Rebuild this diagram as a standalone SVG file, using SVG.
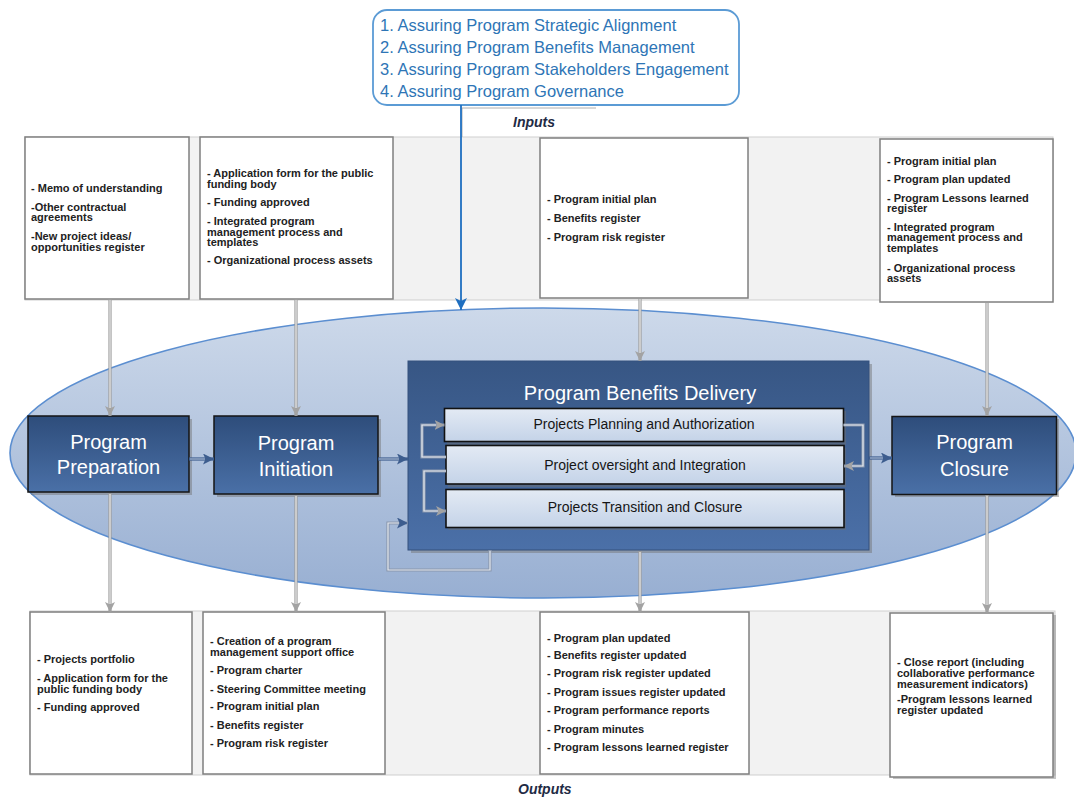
<svg xmlns="http://www.w3.org/2000/svg" width="1074" height="798" viewBox="0 0 1074 798">
<style>
.t{font-family:"Liberation Sans",Arial,sans-serif;}
.it{font-family:"Liberation Sans",Arial,sans-serif;font-size:11px;font-weight:bold;fill:#222;}
.call{font-family:"Liberation Sans",Arial,sans-serif;font-size:16.5px;fill:#2e75b6;}
.nd{font-family:"Liberation Sans",Arial,sans-serif;font-size:20px;fill:#fff;text-anchor:middle;}
.sb{font-family:"Liberation Sans",Arial,sans-serif;font-size:14px;fill:#151515;text-anchor:middle;}
.lab{font-family:"Liberation Sans",Arial,sans-serif;font-size:14px;font-weight:bold;font-style:italic;fill:#1f2b45;}
.box{fill:#fff;stroke:#7f7f7f;stroke-width:1.5;}
.band{fill:#f2f2f2;stroke:#cfcfcf;stroke-width:1;}
.node{fill:url(#gn);stroke:#151515;stroke-width:1.5;}
.shadow{fill:#6f6f6f;opacity:0.45;}
.sub{fill:url(#gs);stroke:#111;stroke-width:1.6;}
.go{fill:none;stroke:#9c9c9c;stroke-width:3.2;}
.gi{fill:none;stroke:#ececec;stroke-width:1.2;}
.co{fill:none;stroke:#8a97ad;stroke-width:3.2;}
.ci{fill:none;stroke:#e4e9f1;stroke-width:1.2;}
.bo{fill:none;stroke:#3d5d8e;stroke-width:3.2;}
.bi{fill:none;stroke:#a9b9d2;stroke-width:1.2;}
</style>
<defs>
<linearGradient id="ge" x1="0" y1="0" x2="0" y2="1">
<stop offset="0" stop-color="#cdd9ea"/>
<stop offset="1" stop-color="#98afd2"/>
</linearGradient>
<linearGradient id="gn" x1="0" y1="0" x2="0" y2="1">
<stop offset="0" stop-color="#2e4d7b"/>
<stop offset="1" stop-color="#4a70a7"/>
</linearGradient>
<linearGradient id="gp" x1="0" y1="0" x2="0" y2="1">
<stop offset="0" stop-color="#375684"/>
<stop offset="1" stop-color="#4b70a8"/>
</linearGradient>
<linearGradient id="gs" x1="0" y1="0" x2="0" y2="1">
<stop offset="0" stop-color="#e3eaf4"/>
<stop offset="1" stop-color="#c4d3e8"/>
</linearGradient>
<marker id="ag" markerUnits="userSpaceOnUse" markerWidth="10" markerHeight="10" refX="10" refY="5" orient="auto">
<path d="M0,0 L10,5 L0,10 L2.5,5 z" fill="#a3a3a3"/>
</marker>
<marker id="ab" markerUnits="userSpaceOnUse" markerWidth="11" markerHeight="11" refX="11" refY="5.5" orient="auto">
<path d="M0,0 L11,5.5 L0,11 L2.5,5.5 z" fill="#3d5d8e"/>
</marker>
<marker id="ac" markerUnits="userSpaceOnUse" markerWidth="12" markerHeight="12" refX="12" refY="6" orient="auto">
<path d="M0,0 L12,6 L0,12 L3,6 z" fill="#1f6fc0"/>
</marker>
</defs>

<rect width="1074" height="798" fill="#fff"/>

<!-- process ellipse -->
<ellipse id="process-ellipse" cx="543" cy="453" rx="533" ry="145" fill="url(#ge)" stroke="#5b8ed0" stroke-width="1.6"/>

<!-- bands -->
<rect class="band" x="25" y="137" width="1028" height="163"/>
<rect class="band" x="30" y="611" width="1025" height="164"/>

<!-- callout -->
<g id="assurance-callout">
<rect x="373" y="10" width="366" height="95" rx="14" fill="#fff" stroke="#5b9bd5" stroke-width="1.8"/>
<text class="call" x="380" y="31">1. Assuring Program Strategic Alignment</text>
<text class="call" x="380" y="53">2. Assuring Program Benefits Management</text>
<text class="call" x="380" y="75">3. Assuring Program Stakeholders Engagement</text>
<text class="call" x="380" y="96.5">4. Assuring Program Governance</text>
</g>

<g id="inputs-label">
<path d="M462,137 V108 H596" fill="none" stroke="#b0b0b0" stroke-width="1"/>
<text class="lab" x="513" y="127">Inputs</text>
</g>
<g id="outputs-label">
<text class="lab" x="518" y="794">Outputs</text>
</g>

<!-- input boxes -->
<g id="input-preparation">
<rect class="box" x="25" y="137" width="164" height="162"/>
<text class="it" x="31" y="192">- Memo of understanding</text>
<text class="it" x="31" y="210.5">-Other contractual</text>
<text class="it" x="31" y="220.7">agreements</text>
<text class="it" x="31" y="239.7">-New project ideas/</text>
<text class="it" x="31" y="250.7">opportunities register</text>
</g>
<g id="input-initiation">
<rect class="box" x="200" y="137" width="193" height="162"/>
<text class="it" x="207" y="176.7">- Application form for the public</text>
<text class="it" x="207" y="188">funding body</text>
<text class="it" x="207" y="205.7">- Funding approved</text>
<text class="it" x="207" y="224.7">- Integrated program</text>
<text class="it" x="207" y="235.7">management process and</text>
<text class="it" x="207" y="245.7">templates</text>
<text class="it" x="207" y="264">- Organizational process assets</text>
</g>
<g id="input-delivery">
<rect class="box" x="540" y="138" width="208" height="160"/>
<text class="it" x="547" y="203.3">- Program initial plan</text>
<text class="it" x="547" y="221.7">- Benefits register</text>
<text class="it" x="547" y="240.7">- Program risk register</text>
</g>
<g id="input-closure">
<rect class="box" x="880" y="139" width="173" height="163"/>
<text class="it" x="887" y="165.3">- Program initial plan</text>
<text class="it" x="887" y="183.3">- Program plan updated</text>
<text class="it" x="887" y="201.7">- Program Lessons learned</text>
<text class="it" x="887" y="212.3">register</text>
<text class="it" x="887" y="230.7">- Integrated program</text>
<text class="it" x="887" y="241.3">management process and</text>
<text class="it" x="887" y="252.3">templates</text>
<text class="it" x="887" y="271.7">- Organizational process</text>
<text class="it" x="887" y="281.7">assets</text>
</g>

<!-- output boxes -->
<g id="output-preparation">
<rect class="box" x="30" y="612" width="162" height="162"/>
<text class="it" x="37" y="663">- Projects portfolio</text>
<text class="it" x="37" y="681.7">- Application form for the</text>
<text class="it" x="37" y="693.3">public funding body</text>
<text class="it" x="37" y="711.3">- Funding approved</text>
</g>
<g id="output-initiation">
<rect class="box" x="203" y="612" width="182" height="162"/>
<text class="it" x="210" y="645">- Creation of a program</text>
<text class="it" x="210" y="655.7">management support office</text>
<text class="it" x="210" y="674">- Program charter</text>
<text class="it" x="210" y="692.7">- Steering Committee meeting</text>
<text class="it" x="210" y="710">- Program initial plan</text>
<text class="it" x="210" y="728.7">- Benefits register</text>
<text class="it" x="210" y="746.7">- Program risk register</text>
</g>
<g id="output-delivery">
<rect class="box" x="540" y="612" width="209" height="162"/>
<text class="it" x="547" y="641.7">- Program plan updated</text>
<text class="it" x="547" y="659">- Benefits register updated</text>
<text class="it" x="547" y="677.3">- Program risk register updated</text>
<text class="it" x="547" y="696">- Program issues register updated</text>
<text class="it" x="547" y="714">- Program performance reports</text>
<text class="it" x="547" y="732.7">- Program minutes</text>
<text class="it" x="547" y="751.3">- Program lessons learned register</text>
</g>
<g id="output-closure">
<rect x="893" y="615" width="163" height="164" fill="#8a8a8a" opacity="0.5"/>
<rect class="box" x="890" y="613" width="163" height="164"/>
<text class="it" x="897" y="665.7">- Close report (including</text>
<text class="it" x="897" y="676.7">collaborative performance</text>
<text class="it" x="897" y="687.7">measurement indicators)</text>
<text class="it" x="897" y="703.3">-Program lessons learned</text>
<text class="it" x="897" y="714.3">register updated</text>
</g>

<!-- nodes -->
<g id="program-preparation">
<rect class="shadow" x="31" y="419" width="161" height="76"/>
<rect class="node" x="28" y="416" width="161" height="76"/>
<text class="nd" x="108.5" y="448.5">Program</text>
<text class="nd" x="108.5" y="474">Preparation</text>
</g>
<g id="program-initiation">
<rect class="shadow" x="217" y="419" width="164" height="78"/>
<rect class="node" x="214" y="416" width="164" height="78"/>
<text class="nd" x="296" y="449.5">Program</text>
<text class="nd" x="296" y="475.5">Initiation</text>
</g>
<g id="program-benefits-delivery">
<rect class="shadow" x="411" y="364" width="461" height="189"/>
<rect x="408" y="361" width="461" height="189" fill="url(#gp)" stroke="#34507c" stroke-width="1"/>
<text class="nd" x="640" y="400">Program Benefits Delivery</text>
<g id="projects-planning">
<rect class="shadow" x="447" y="411" width="399" height="34"/>
<rect class="sub" x="444.5" y="408.5" width="399" height="33"/>
<text class="sb" x="644" y="429">Projects Planning and Authorization</text>
</g>
<g id="project-oversight">
<rect class="shadow" x="448" y="448" width="398" height="39"/>
<rect class="sub" x="446" y="445.5" width="398" height="38.5"/>
<text class="sb" x="645" y="470">Project oversight and Integration</text>
</g>
<g id="projects-transition">
<rect class="shadow" x="448" y="492" width="398" height="38"/>
<rect class="sub" x="446" y="489.5" width="398" height="38"/>
<text class="sb" x="645" y="512">Projects Transition and Closure</text>
</g>
</g>
<g id="program-closure">
<rect class="shadow" x="895" y="419" width="164" height="78"/>
<rect class="node" x="892" y="416.5" width="164.5" height="78"/>
<text class="nd" x="974.5" y="449">Program</text>
<text class="nd" x="974.5" y="475.5">Closure</text>
</g>

<!-- connectors -->
<g id="connectors">
<!-- assurance to process -->
<path d="M461,105 V310" fill="none" stroke="#1f6fc0" stroke-width="1.8" marker-end="url(#ac)"/>
<!-- inputs -->
<path class="go" d="M110,299 V416" marker-end="url(#ag)"/>
<path class="gi" d="M110,300 V408"/>
<path class="go" d="M296,299 V416" marker-end="url(#ag)"/>
<path class="gi" d="M296,300 V408"/>
<path class="go" d="M640,298 V361" marker-end="url(#ag)"/>
<path class="gi" d="M640,299 V353"/>
<path class="go" d="M987,302 V416" marker-end="url(#ag)"/>
<path class="gi" d="M987,303 V408"/>
<!-- outputs -->
<path class="go" d="M110,493 V612" marker-end="url(#ag)"/>
<path class="gi" d="M110,494 V604"/>
<path class="go" d="M296,495 V612" marker-end="url(#ag)"/>
<path class="gi" d="M296,496 V604"/>
<path class="go" d="M640,551 V612" marker-end="url(#ag)"/>
<path class="gi" d="M640,552 V604"/>
<path class="go" d="M987,495 V613" marker-end="url(#ag)"/>
<path class="gi" d="M987,496 V605"/>
<!-- main flow -->
<path class="bo" d="M189,459 H214" marker-end="url(#ab)"/>
<path class="bi" d="M190,459 H205"/>
<path class="bo" d="M378,459 H408" marker-end="url(#ab)"/>
<path class="bi" d="M379,459 H399"/>
<path class="bo" d="M869,458 H892" marker-end="url(#ab)"/>
<path class="bi" d="M870,458 H883"/>
<!-- internal loops -->
<path class="co" d="M446,457 H422 V425 H444.5" marker-end="url(#ag)"/>
<path class="ci" d="M446,457 H422 V425 H436"/>
<path class="co" d="M446,471 H424 V511 H446" marker-end="url(#ag)"/>
<path class="ci" d="M446,471 H424 V511 H438"/>
<path class="co" d="M843.5,425 H863 V466 H844" marker-end="url(#ag)"/>
<path class="ci" d="M843.5,425 H863 V466 H852"/>
<path class="co" d="M490,550 V570 H388 V523 H408" marker-end="url(#ab)"/>
<path class="ci" d="M490,551 V570 H388 V523 H399"/>
</g>
</svg>
